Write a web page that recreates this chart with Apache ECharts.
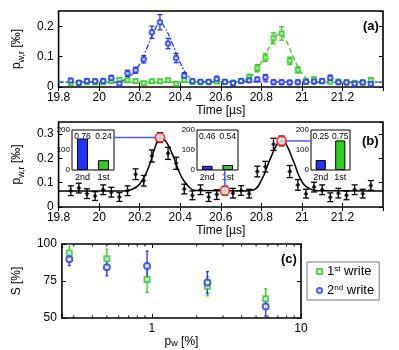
<!DOCTYPE html>
<html>
<head>
<meta charset="UTF-8">
<script src="https://cdn.jsdelivr.net/npm/echarts@6/dist/echarts.min.js"></script>
<style>
body{margin:0;background:#fff;}
#chart{width:399px;height:350px;}
</style>
</head>
<body>
<div id="chart"></div>
<script>

// time axis of panels (a) and (b), us
const times = [19.86,19.90,19.94,19.98,20.02,20.06,20.10,20.14,20.18,20.22,20.26,20.30,20.34,20.38,20.42,20.46,20.50,20.54,20.58,20.62,20.66,20.70,20.74,20.78,20.82,20.86,20.90,20.94,20.98,21.02,21.06,21.10,21.14,21.18,21.22,21.26,21.30,21.34]

// (a) blue = 2nd write, green = 1st write
const aBlue = [0.021,0.014,0.020,0.019,0.020,0.030,0.011,0.045,0.055,0.091,0.180,0.213,0.143,0.095,0.037,0.019,0.017,0.017,0.027,0.017,0.013,0.020,0.022,0.025,0.032,0.016,0.016,0.015,0.016,0.017,0.018,0.020,0.030,0.016,0.015,0.011,0.015,0.010]
const aBlueErr = [0.007,0.007,0.007,0.007,0.007,0.008,0.007,0.010,0.010,0.012,0.020,0.025,0.017,0.015,0.010,0.007,0.007,0.007,0.008,0.007,0.007,0.007,0.007,0.007,0.009,0.007,0.007,0.007,0.007,0.007,0.007,0.007,0.009,0.007,0.007,0.007,0.007,0.007]
const aGreen = [0.013,0.014,0.016,0.015,0.016,0.020,0.023,0.022,0.020,0.012,0.019,0.019,0.022,0.011,0.024,0.017,0.016,0.016,0.018,0.016,0.015,0.020,0.032,0.062,0.097,0.160,0.176,0.086,0.056,0.019,0.025,0.018,0.017,0.018,0.016,0.014,0.015,0.022]
const aGreenErr = [0.006,0.006,0.006,0.006,0.006,0.006,0.006,0.006,0.006,0.006,0.006,0.006,0.006,0.006,0.008,0.006,0.006,0.006,0.006,0.006,0.006,0.006,0.010,0.012,0.013,0.018,0.022,0.012,0.010,0.006,0.008,0.006,0.006,0.006,0.006,0.006,0.006,0.008]

const aBlueFitT = [19.8,20.08,20.12,20.16,20.20,20.24,20.28,20.30,20.32,20.36,20.40,20.44,20.48,21.4]
const aBlueFitV = [0.016,0.016,0.022,0.040,0.075,0.135,0.195,0.210,0.200,0.145,0.080,0.035,0.018,0.016]
const aGreenFitT = [19.8,20.66,20.70,20.74,20.78,20.82,20.86,20.89,20.92,20.96,21.00,21.04,21.08,21.4]
const aGreenFitV = [0.016,0.016,0.019,0.030,0.060,0.105,0.155,0.175,0.155,0.095,0.045,0.022,0.016,0.016]

// (b) sum of both
const bVal = [0.067,0.078,0.055,0.045,0.071,0.061,0.041,0.067,0.135,0.108,0.210,0.286,0.221,0.180,0.074,0.048,0.071,0.041,0.051,0.067,0.057,0.068,0.055,0.146,0.166,0.258,0.272,0.146,0.091,0.055,0.082,0.071,0.040,0.057,0.048,0.071,0.055,0.089]
const bErr = [0.020,0.020,0.020,0.018,0.020,0.020,0.018,0.020,0.022,0.022,0.025,0.020,0.025,0.025,0.020,0.018,0.020,0.018,0.020,0.018,0.020,0.020,0.018,0.022,0.022,0.025,0.020,0.025,0.022,0.018,0.020,0.020,0.018,0.020,0.018,0.020,0.018,0.020]
const bFitT = [19.8,20.12,20.16,20.20,20.24,20.28,20.30,20.32,20.36,20.40,20.44,20.48,20.72,20.76,20.80,20.84,20.88,20.90,20.92,20.96,21.00,21.04,21.08,21.4]
const bFitV = [0.066,0.066,0.072,0.095,0.155,0.255,0.286,0.280,0.220,0.135,0.085,0.068,0.066,0.070,0.110,0.190,0.262,0.272,0.262,0.185,0.105,0.075,0.067,0.066]
const marked = [11,19,26]

// insets: counts and fractions
const insetCats = ['2nd','1st']
const inset1 = [157,49], inset1Frac = ['0.76','0.24']
const inset2 = [21,25], inset2Frac = ['0.46','0.54']
const inset3 = [50,148], inset3Frac = ['0.25','0.75']

// (c)
const cX = [0.28,0.5,0.93,2.36,5.8]
const cFirst = [94,90,76,71.5,63]
const cFirstErr = [6,6.5,8.7,6.5,6.7]
const cSecond = [89.7,84.3,85.2,74,57.8]
const cSecondErr = [4.3,5.8,10,7.3,6.5]
const cMinor = [0.3,0.4,0.5,0.6,0.7,0.8,0.9,2,3,4,5,6,7,8,9]

const FONT = "'Liberation Sans', Arial, sans-serif"
const BLUE = '#2233ff'
const GREEN = '#2fcc1f'
const LINKBLUE = '#4a5cff'

const insets = [
 {left:72,top:130,width:42,height:40},
 {left:197,top:130,width:41,height:40},
 {left:311,top:130,width:39,height:40}
]

const txt = {color:'#000',fontFamily:FONT,fontSize:12}
const nameRich = {
 sub:{fontSize:9,fontFamily:FONT,color:'#000',verticalAlign:'bottom',lineHeight:10},
 sup:{fontSize:8,fontFamily:FONT,color:'#000',verticalAlign:'top',lineHeight:8}
}

function zip(x,y){ return x.map((v,i)=>[v,y[i]]) }

function xPair(grid,min,max,interval,name,gap,type){
 const tick = {inside:true,length:4,lineStyle:{color:'#000',width:1}}
 const bottom = {
  type:type||'value',gridIndex:grid,min:min,max:max,
  axisLine:{show:false},axisTick:tick,splitLine:{show:false},
  axisLabel:Object.assign({margin:5,showMaxLabel:false},txt),
  name:name,nameLocation:'middle',nameGap:gap,
  nameTextStyle:Object.assign({rich:nameRich},txt)
 }
 if(interval) bottom.interval = interval
 const top = {
  type:type||'value',gridIndex:grid,min:min,max:max,position:'top',
  axisLine:{show:false},axisTick:tick,axisLabel:{show:false},splitLine:{show:false}
 }
 if(interval) top.interval = interval
 return [bottom,top]
}

function yPair(grid,min,max,interval,name,gap){
 const tick = {inside:true,length:4,lineStyle:{color:'#000',width:1}}
 return [
  {type:'value',gridIndex:grid,min:min,max:max,interval:interval,
   axisLine:{show:false},axisTick:tick,splitLine:{show:false},
   axisLabel:Object.assign({margin:5,showMaxLabel:false},txt),
   name:name,nameLocation:'middle',nameGap:gap,
   nameTextStyle:Object.assign({rich:nameRich,lineHeight:18},txt)},
  {type:'value',gridIndex:grid,min:min,max:max,interval:interval,position:'right',
   axisLine:{show:false},axisTick:tick,axisLabel:{show:false},splitLine:{show:false}}
 ]
}

function errSeries(x,y,e,color,xi,yi,cap){
 return {
  type:'custom',xAxisIndex:xi,yAxisIndex:yi,clip:true,silent:true,z:3,
  data:x.map((t,i)=>[t,y[i]-e[i],y[i]+e[i]]),
  encode:{x:0,y:[1,2]},
  renderItem:function(p,api){
   const lo = api.coord([api.value(0),api.value(1)])
   const hi = api.coord([api.value(0),api.value(2)])
   const st = {stroke:color,lineWidth:1.3}
   return {type:'group',children:[
    {type:'line',shape:{x1:hi[0],y1:hi[1],x2:lo[0],y2:lo[1]},style:st},
    {type:'line',shape:{x1:hi[0]-cap,y1:hi[1],x2:hi[0]+cap,y2:hi[1]},style:st},
    {type:'line',shape:{x1:lo[0]-cap,y1:lo[1],x2:lo[0]+cap,y2:lo[1]},style:st}
   ]}
  }
 }
}

function insetAxes(k,frac){
 return {
  x:[
   {type:'category',gridIndex:3+k,data:insetCats,axisLine:{show:false},axisTick:{show:false},
    axisLabel:{interval:0,color:'#000',fontFamily:FONT,fontSize:9,margin:3}},
   {type:'category',gridIndex:3+k,data:frac,position:'top',axisLine:{show:false},axisTick:{show:false},
    axisLabel:{interval:0,inside:true,color:'#000',fontFamily:FONT,fontSize:8.5,margin:2}}
  ],
  y:{type:'value',gridIndex:3+k,min:0,max:200,interval:100,axisLine:{show:false},
   axisTick:{show:false},splitLine:{show:false},
   axisLabel:{color:'#000',fontFamily:FONT,fontSize:8,margin:2}}
 }
}

const grids = [
 {left:43,top:11,width:340,height:76},
 {left:43,top:122,width:340,height:85},
 {left:44,top:244,width:257,height:74}
].map(g=>Object.assign(g,{show:true,borderColor:'#000',borderWidth:1.6,backgroundColor:'#fff'}))
insets.forEach(r=>grids.push(Object.assign({show:true,borderColor:'#000',borderWidth:1,backgroundColor:'#fff'},r)))

const ia = insets.map((r,k)=>insetAxes(k,[inset1Frac,inset2Frac,inset3Frac][k]))

const logX = xPair(2,0.25,10,null,'p{sub|w} [%]',15,'log')
logX[0].logBase = 10
logX[0].axisLabel.formatter = v => v>0.99 ? String(Math.round(v)) : ''
logX[0].axisLabel.showMaxLabel = true
logX[1].logBase = 10

const xAxes = [].concat(
 xPair(0,19.8,21.4,0.2,'Time [µs]',15),
 xPair(1,19.8,21.4,0.2,'Time [µs]',15),
 logX,
 ia[0].x, ia[1].x, ia[2].x
)
const yAxes = [].concat(
 yPair(0,0,0.25,0.1,'p{sub|w,r} [‰]',22),
 yPair(1,0,0.35,0.1,'p{sub|w,r} [‰]',22),
 yPair(2,50,100,25,'S [%]',23),
 [ia[0].y, ia[1].y, ia[2].y]
)
yAxes[4].axisLabel.showMaxLabel = true

function barSeries(k,vals){
 return {type:'bar',xAxisIndex:6+2*k,yAxisIndex:6+k,barWidth:'52%',silent:true,z:4,
  data:vals.map((v,i)=>({value:v,itemStyle:{color:i===0?BLUE:GREEN,borderColor:'#000',borderWidth:1}}))}
}

const chart = echarts.init(document.getElementById('chart'),null,{renderer:'canvas'})

chart.setOption({
 animation:false,
 grid:grids,
 xAxis:xAxes,
 yAxis:yAxes,
 legend:{
  orient:'vertical',left:307,top:262,
  data:['1st write','2nd write'],
  formatter:n => n==='1st write' ? '1{sup|st} write' : '2{sup|nd} write',
  textStyle:{color:'#000',fontFamily:FONT,fontSize:13,rich:{sup:{fontSize:8,fontFamily:FONT,verticalAlign:'top',lineHeight:8}}},
  itemWidth:5,itemHeight:5,itemGap:6,
  itemStyle:{borderWidth:1},
  borderColor:'#777',borderWidth:1,padding:[3,5,3,9],backgroundColor:'#fff'
 },
 series:[
  // (a)
  {type:'line',xAxisIndex:0,yAxisIndex:0,data:zip(aGreenFitT,aGreenFitV),smooth:true,showSymbol:false,silent:true,
   lineStyle:{color:GREEN,width:1.3,type:[5,3]}},
  {type:'line',xAxisIndex:0,yAxisIndex:0,data:zip(aBlueFitT,aBlueFitV),smooth:true,showSymbol:false,silent:true,
   lineStyle:{color:BLUE,width:1.3,type:[5,2,1.5,2]}},
  errSeries(times,aGreen,aGreenErr,GREEN,0,0,2.5),
  {type:'scatter',xAxisIndex:0,yAxisIndex:0,data:zip(times,aGreen),symbol:'emptyRect',symbolSize:4,silent:true,z:4,
   itemStyle:{color:GREEN,borderWidth:1.2}},
  errSeries(times,aBlue,aBlueErr,BLUE,0,0,2.5),
  {type:'scatter',xAxisIndex:0,yAxisIndex:0,data:zip(times,aBlue),symbol:'emptyCircle',symbolSize:4.5,silent:true,z:4,
   itemStyle:{color:BLUE,borderWidth:1.2}},
  // (b)
  {type:'line',xAxisIndex:2,yAxisIndex:2,data:zip(bFitT,bFitV),smooth:true,showSymbol:false,silent:true,
   lineStyle:{color:'#000',width:1.5}},
  errSeries(times,bVal,bErr,'#000',2,2,3),
  {type:'scatter',xAxisIndex:2,yAxisIndex:2,data:zip(times,bVal),symbol:'diamond',symbolSize:5,silent:true,z:4,
   itemStyle:{color:'#000'}},
  {type:'scatter',xAxisIndex:2,yAxisIndex:2,data:marked.map(i=>[times[i],bVal[i]]),symbol:'emptyCircle',symbolSize:9,silent:true,z:6,
   itemStyle:{color:'#ff1a1a',borderWidth:2}},
  barSeries(0,inset1),barSeries(1,inset2),barSeries(2,inset3),
  // (c)
  {type:'custom',xAxisIndex:4,yAxisIndex:4,silent:true,z:2,data:cMinor.map(v=>[v]),
   renderItem:function(p,api){
    const b = api.coord([api.value(0),50]), t = api.coord([api.value(0),100])
    const st = {stroke:'#000',lineWidth:1}
    return {type:'group',children:[
     {type:'line',shape:{x1:b[0],y1:b[1],x2:b[0],y2:b[1]-2.5},style:st},
     {type:'line',shape:{x1:t[0],y1:t[1],x2:t[0],y2:t[1]+2.5},style:st}
    ]}
   }},
  errSeries(cX,cFirst,cFirstErr,GREEN,4,4,1.5),
  {name:'1st write',type:'scatter',xAxisIndex:4,yAxisIndex:4,data:zip(cX,cFirst),symbol:'emptyRect',symbolSize:5,silent:true,z:4,
   itemStyle:{color:GREEN,borderWidth:1.5}},
  errSeries(cX,cSecond,cSecondErr,BLUE,4,4,1.5),
  {name:'2nd write',type:'scatter',xAxisIndex:4,yAxisIndex:4,data:zip(cX,cSecond),symbol:'emptyCircle',symbolSize:6,silent:true,z:5,
   itemStyle:{color:BLUE,borderWidth:1.4}}
 ]
})

// blue links from insets to the marked points
const px = marked.map(i=>chart.convertToPixel({xAxisIndex:2,yAxisIndex:2},[times[i],bVal[i]]))
const linkStyle = {stroke:LINKBLUE,lineWidth:1.5}
const panelText = (s,x,y)=>({type:'text',left:x,top:y,z:10,style:{text:s,fill:'#000',font:'bold 13px '+FONT}})

chart.setOption({
 graphic:[
  {type:'line',z:3,shape:{x1:insets[0].left+insets[0].width,y1:px[0][1],x2:px[0][0],y2:px[0][1]},style:linkStyle},
  {type:'line',z:3,shape:{x1:px[1][0],y1:insets[1].top+insets[1].height,x2:px[1][0],y2:px[1][1]},style:linkStyle},
  {type:'line',z:3,shape:{x1:px[2][0],y1:px[2][1],x2:insets[2].left,y2:px[2][1]},style:linkStyle},
  panelText('(a)',363,20),
  panelText('(b)',362,135),
  panelText('(c)',281,253)
 ]
})

</script>
</body>
</html>
